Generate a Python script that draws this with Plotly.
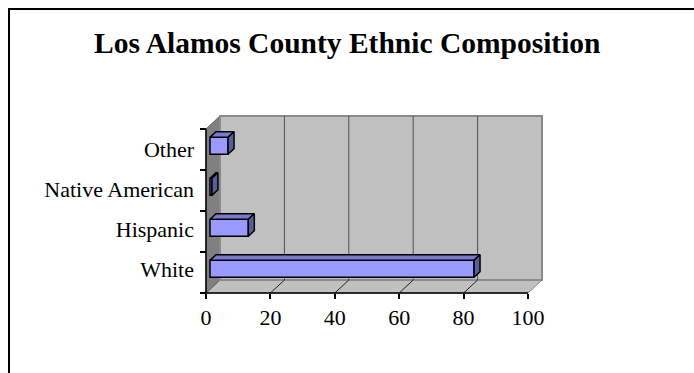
import plotly.graph_objects as go

# Data
categories = ["White", "Hispanic", "Native American", "Other"]
percent = [82.0, 11.9, 0.6, 5.6]
x_ticks = [0, 20, 40, 60, 80, 100]

# Figure size and the pixel frame of the front plane of the 3-D box
W, H = 694, 373
X0_PX, X100_PX = 206, 528          # x = 0 and x = 100 on the front edge
Y_BOTTOM_PX, CAT_PX = 293, 41      # floor front edge, height of one category
DEPTH_PX_X, DEPTH_PX_Y = 14, 13    # oblique shift from front plane to back wall

kx = (X100_PX - X0_PX) / 100.0
x_range = [-X0_PX / kx, (W - X0_PX) / kx]
y_center0 = Y_BOTTOM_PX - CAT_PX / 2
y_range = [(y_center0 - H) / CAT_PX, y_center0 / CAT_PX]

# depth vector in data units
DX = DEPTH_PX_X / kx
DY = DEPTH_PX_Y / CAT_PX

n = len(categories)
y_lo, y_hi = -0.5, n - 0.5
x_lo, x_hi = 0, 100

FONT = "Liberation Serif, Times New Roman, serif"

fig = go.Figure()
shapes = []


def poly(pts):
    return "M " + " L ".join(f"{x},{y}" for x, y in pts) + " Z"


# floor
shapes.append(dict(type="path", layer="below", xref="x", yref="y",
                   path=poly([(x_lo, y_lo), (x_hi, y_lo), (x_hi + DX, y_lo + DY), (x_lo + DX, y_lo + DY)]),
                   fillcolor="#c0c0c0", line=dict(color="#808080", width=1)))
# left side wall
shapes.append(dict(type="path", layer="below", xref="x", yref="y",
                   path=poly([(x_lo, y_lo), (x_lo, y_hi), (x_lo + DX, y_hi + DY), (x_lo + DX, y_lo + DY)]),
                   fillcolor="#808080", line=dict(color="#606060", width=1)))
# back wall
shapes.append(dict(type="rect", layer="below", xref="x", yref="y",
                   x0=x_lo + DX, x1=x_hi + DX, y0=y_lo + DY, y1=y_hi + DY,
                   fillcolor="#c0c0c0", line=dict(color="#8a8a8a", width=2)))
# gridlines on back wall and floor
for v in x_ticks[1:-1]:
    shapes.append(dict(type="line", layer="below", xref="x", yref="y",
                       x0=v + DX, x1=v + DX, y0=y_lo + DY, y1=y_hi + DY,
                       line=dict(color="#505050", width=1)))
    shapes.append(dict(type="line", layer="below", xref="x", yref="y",
                       x0=v, x1=v + DX, y0=y_lo, y1=y_lo + DY,
                       line=dict(color="#202020", width=1)))
# axis lines
shapes.append(dict(type="line", layer="below", xref="x", yref="y",
                   x0=x_lo, x1=x_hi, y0=y_lo, y1=y_lo, line=dict(color="black", width=1.5)))
shapes.append(dict(type="line", layer="below", xref="x", yref="y",
                   x0=x_lo, x1=x_lo, y0=y_lo, y1=y_hi, line=dict(color="black", width=1.5)))

# chart frame
fx, fy = 9 / W, 1 - 9 / H
shapes.append(dict(type="path", xref="paper", yref="paper",
                   path=f"M {fx},-0.1 L {fx},{fy} L 1.1,{fy}",
                   line=dict(color="black", width=2)))

# bars: front faces plus oblique top and side faces
f_front, f_back = 0.286, 0.714
bx = f_front * DX
by = f_front * DY
sdx = (f_back - f_front) * DX
sdy = (f_back - f_front) * DY
bar_h = 17 / CAT_PX
ypos = [i + by for i in range(n)]

top_x, top_y, side_x, side_y = [], [], [], []
for i, v in enumerate(percent):
    yt = ypos[i] + bar_h / 2
    yb = ypos[i] - bar_h / 2
    top_x += [bx, bx + v, bx + v + sdx, bx + sdx, bx, None]
    top_y += [yt, yt, yt + sdy, yt + sdy, yt, None]
    side_x += [bx + v, bx + v, bx + v + sdx, bx + v + sdx, bx + v, None]
    side_y += [yb, yt, yt + sdy, yb + sdy, yb, None]

fig.add_trace(go.Bar(x=percent, y=ypos, base=bx, orientation="h", width=bar_h,
                     marker=dict(color="#9999ff", line=dict(color="black", width=1.5)),
                     hoverinfo="skip", showlegend=False))
fig.add_trace(go.Scatter(x=top_x, y=top_y, mode="lines", fill="toself", fillcolor="#7a7acc",
                         line=dict(color="black", width=1.5), hoverinfo="skip", showlegend=False))
fig.add_trace(go.Scatter(x=side_x, y=side_y, mode="lines", fill="toself", fillcolor="#5c5c99",
                         line=dict(color="black", width=1.5), hoverinfo="skip", showlegend=False))
# carrier for the boundary-tick axis
fig.add_trace(go.Scatter(x=[0], y=[0], yaxis="y2", mode="markers", marker=dict(opacity=0),
                         hoverinfo="skip", showlegend=False))

# category label anchors, slightly lifted toward the bar depth
label_pos = [0.08, 1.05, 2.02, 3.0]

fig.update_layout(
    width=W, height=H,
    margin=dict(l=0, r=0, t=0, b=0),
    paper_bgcolor="white", plot_bgcolor="rgba(0,0,0,0)",
    showlegend=False,
    shapes=shapes,
    xaxis=dict(range=x_range, domain=[0, 1], anchor="free", position=(H - Y_BOTTOM_PX) / H,
               tickmode="array", tickvals=x_ticks, ticks="outside", ticklen=5, tickwidth=1.5,
               tickcolor="black", showline=False, showgrid=False, zeroline=False,
               tickfont=dict(family=FONT, size=22, color="black"), fixedrange=True),
    yaxis=dict(range=y_range, domain=[0, 1], anchor="free", position=X0_PX / W,
               tickmode="array", tickvals=label_pos, ticktext=categories, ticks="",
               showline=False, showgrid=False, zeroline=False, ticklabelstandoff=12,
               tickfont=dict(family=FONT, size=22, color="black"), fixedrange=True),
    yaxis2=dict(range=y_range, domain=[0, 1], overlaying="y", anchor="free", position=X0_PX / W,
                side="left", tickmode="array", tickvals=[i - 0.5 for i in range(n + 1)],
                ticks="outside", ticklen=6, tickwidth=1.5, tickcolor="black",
                showticklabels=False, showline=False, showgrid=False, zeroline=False,
                fixedrange=True),
    annotations=[dict(text="<b>Los Alamos County Ethnic Composition</b>", xref="paper", yref="paper",
                      x=0.5, y=1 - 43 / H, xanchor="center", yanchor="middle", showarrow=False,
                      font=dict(family=FONT, size=29.5, color="black"))],
)

fig.write_html("out.html")
